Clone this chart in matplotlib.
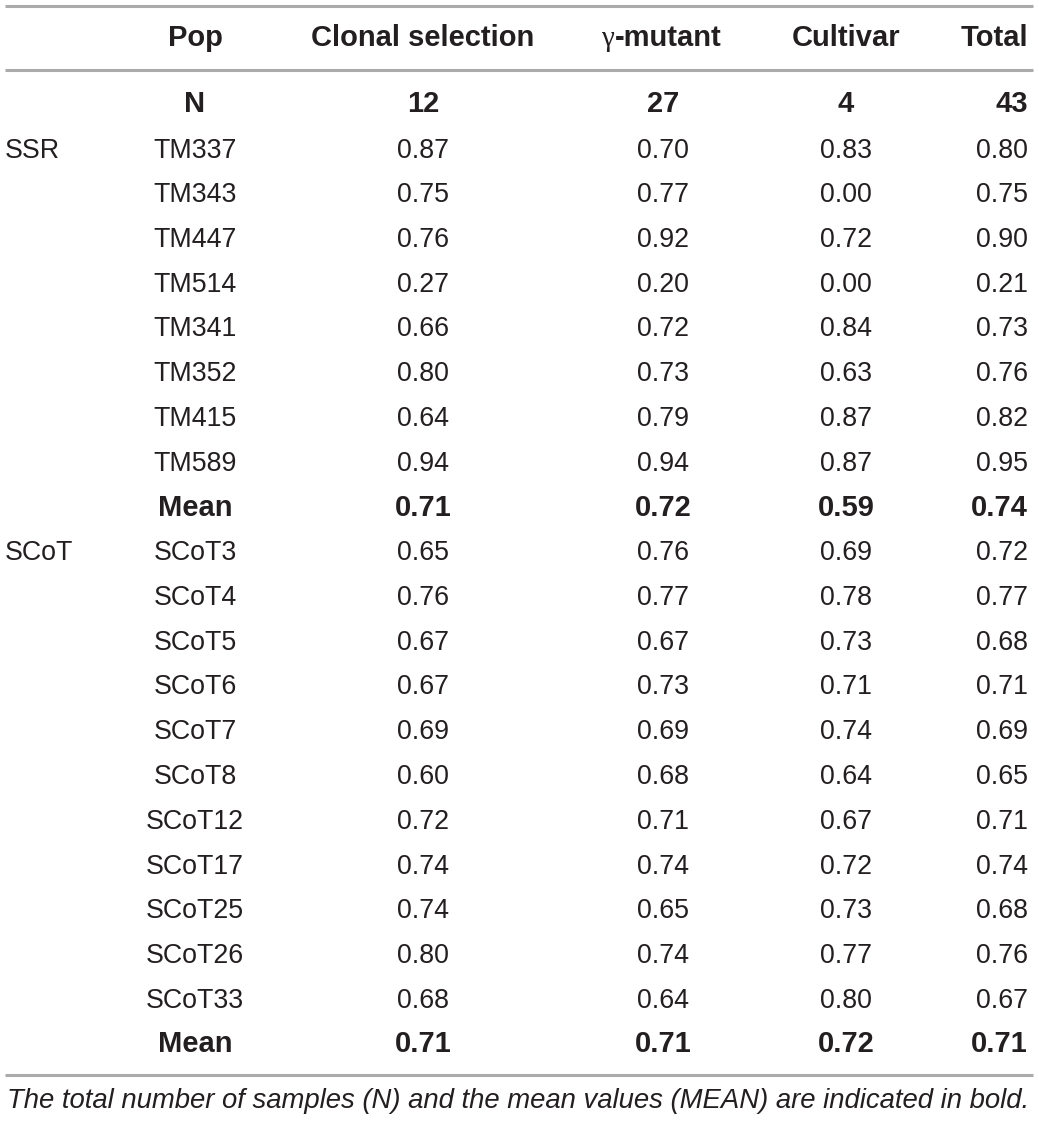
import matplotlib
matplotlib.use("Agg")
import matplotlib.pyplot as plt

# table content
headers = ["Pop", "Clonal selection", "-mutant", "Cultivar", "Total"]
n_row = ["N", "12", "27", "4", "43"]

ssr_markers = ["TM337", "TM343", "TM447", "TM514", "TM341", "TM352", "TM415", "TM589"]
ssr_clonal = ["0.87", "0.75", "0.76", "0.27", "0.66", "0.80", "0.64", "0.94"]
ssr_gamma = ["0.70", "0.77", "0.92", "0.20", "0.72", "0.73", "0.79", "0.94"]
ssr_cultivar = ["0.83", "0.00", "0.72", "0.00", "0.84", "0.63", "0.87", "0.87"]
ssr_total = ["0.80", "0.75", "0.90", "0.21", "0.73", "0.76", "0.82", "0.95"]
ssr_mean = ["0.71", "0.72", "0.59", "0.74"]

scot_markers = ["SCoT3", "SCoT4", "SCoT5", "SCoT6", "SCoT7", "SCoT8", "SCoT12",
                "SCoT17", "SCoT25", "SCoT26", "SCoT33"]
scot_clonal = ["0.65", "0.76", "0.67", "0.67", "0.69", "0.60", "0.72", "0.74", "0.74", "0.80", "0.68"]
scot_gamma = ["0.76", "0.77", "0.67", "0.73", "0.69", "0.68", "0.71", "0.74", "0.65", "0.74", "0.64"]
scot_cultivar = ["0.69", "0.78", "0.73", "0.71", "0.74", "0.64", "0.67", "0.72", "0.73", "0.77", "0.80"]
scot_total = ["0.72", "0.77", "0.68", "0.71", "0.69", "0.65", "0.71", "0.74", "0.68", "0.76", "0.67"]
scot_mean = ["0.71", "0.71", "0.72", "0.71"]

footnote = "The total number of samples (N) and the mean values (MEAN) are indicated in bold."

W, H = 1039, 1121
fig = plt.figure(figsize=(W / 100, H / 100), dpi=100)
ax = fig.add_axes([0, 0, 1, 1])
ax.set_xlim(0, W)
ax.set_ylim(H, 0)
ax.axis("off")

font = "Liberation Sans"
fs = 19.3
fs_bold = 21
col = "#231f20"
line_col = "#ababab"
off = 9.5  # baseline offset from visual center

def put(x, y, s, ha="center", bold=False, **kw):
    ax.text(x, y + off, s, ha=ha, va="baseline", fontsize=fs_bold if bold else fs,
            family=font, fontweight="bold" if bold else "normal", color=col, **kw)

# rules
for y in [6, 70, 1075]:
    ax.plot([5, 1033], [y, y], color=line_col, lw=2.2, solid_capstyle="butt")

# header
pop_x = 195
col_x = [423, 663, 846, 1028]
col_ha = ["center", "center", "center", "right"]
put(pop_x, 37, headers[0], bold=True)
put(423, 37, headers[1], bold=True)
ax.text(614, 37 + off, "γ", ha="right", va="baseline", fontsize=fs + 1.5,
        family="Liberation Serif", color=col)
put(615, 37, headers[2], ha="left", bold=True)
put(846, 37, headers[3], bold=True)
put(1028, 37, headers[4], ha="right", bold=True)

# N row
put(pop_x, 102, n_row[0], bold=True)
for x, ha, v in zip(col_x, col_ha, n_row[1:]):
    put(x, 102, v, ha=ha, bold=True)

y0 = 148
step = 44.75

def block(label, markers, cols, means, start):
    put(5, y0 + start * step, label, ha="left")
    for i, m in enumerate(markers):
        y = y0 + (start + i) * step
        put(pop_x, y, m)
        for x, ha, series in zip(col_x, col_ha, cols):
            put(x, y, series[i], ha=ha)
    y = y0 + (start + len(markers)) * step
    put(pop_x, y, "Mean", bold=True)
    for x, ha, v in zip(col_x, col_ha, means):
        put(x, y, v, ha=ha, bold=True)
    return start + len(markers) + 1

nxt = block("SSR", ssr_markers, [ssr_clonal, ssr_gamma, ssr_cultivar, ssr_total], ssr_mean, 0)
block("SCoT", scot_markers, [scot_clonal, scot_gamma, scot_cultivar, scot_total], scot_mean, nxt)

ax.text(7, 1098 + off, footnote, ha="left", va="baseline", fontsize=19.8, family=font,
        style="italic", color=col)

fig.savefig("out.png", dpi=100)
